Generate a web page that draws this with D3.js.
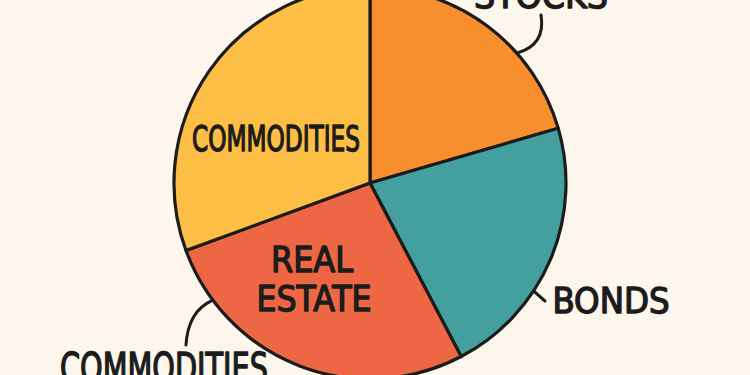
<!DOCTYPE html>
<html>
<head>
<meta charset="utf-8">
<script src="https://cdn.jsdelivr.net/npm/d3@7"></script>
<style>
html,body{margin:0;padding:0;background:#FDF6EC;}
svg{display:block;}
text{font-family:"DejaVu Sans Condensed","DejaVu Sans",sans-serif;font-stretch:condensed;font-weight:normal;fill:#1c1c1c;stroke:#1c1c1c;stroke-width:1.4px;stroke-linejoin:round;}
</style>
</head>
<body>
<svg id="chart" width="750" height="375"></svg>
<script>
// Data
const categories = ["Stocks", "Bonds", "Real Estate", "Commodities"];
const values = [20.5, 21.8, 27.1, 30.6];
const colors = ["#F78F2E", "#44A09E", "#EE6744", "#FDBE45"];

const W = 750, H = 375;
const cx = 370, cy = 183, R = 196;
const svg = d3.select("#chart");
svg.append("rect").attr("width", W).attr("height", H).attr("fill", "#FDF6EC");

const pie = d3.pie().sort(null).value(d => d.v);
const arcs = pie(categories.map((c, i) => ({c, v: values[i], col: colors[i]})));
const arc = d3.arc().innerRadius(0).outerRadius(R);

const g = svg.append("g").attr("transform", `translate(${cx},${cy})`);
g.selectAll("path.slice").data(arcs).enter().append("path")
  .attr("class", "slice")
  .attr("d", arc)
  .attr("fill", d => d.data.col)
  .attr("stroke", "#1c1c1c")
  .attr("stroke-width", 3.2)
  .attr("stroke-linejoin", "round");

// point on the rim at a given angle (radians, clockwise from 12 o'clock)
function rim(a, r = R) { return [Math.sin(a) * r, -Math.cos(a) * r]; }
const deg = Math.PI / 180;

// Leader lines (relative to centre)
const leaders = [
  {a: 48.5 * deg, ctrl: [176, -138], end: [171, -168]},
  {a: 123.4 * deg, ctrl: [168, 112], end: [175, 118]},
  {a: 233.3 * deg, ctrl: [-182, 128], end: [-184, 162]}
];
leaders.forEach(l => {
  const s = rim(l.a);
  g.append("path")
    .attr("d", `M${s[0]},${s[1]} Q${l.ctrl[0]},${l.ctrl[1]} ${l.end[0]},${l.end[1]}`)
    .attr("fill", "none").attr("stroke", "#1c1c1c").attr("stroke-width", 3).attr("stroke-linecap", "round");
});

// Labels
const labels = [
  {t: "COMMODITIES", x: 276, y: 151, w: 168, fs: 36},
  {t: "REAL", x: 312, y: 272, w: 82, fs: 36},
  {t: "ESTATE", x: 314, y: 311, w: 115, fs: 36},
  {t: "BONDS", x: 611, y: 313, w: 117, fs: 36},
  {t: "STOCKS", x: 541, y: 8, w: 134, fs: 36},
  {t: "COMMODITIES", x: 164, y: 382, w: 208, fs: 40}
];
svg.selectAll("text.lab").data(labels).enter().append("text")
  .attr("class", "lab")
  .attr("x", d => d.x).attr("y", d => d.y)
  .attr("text-anchor", "middle")
  .attr("font-size", d => d.fs)
  .attr("textLength", d => d.w)
  .attr("lengthAdjust", "spacingAndGlyphs")
  .text(d => d.t);
</script>
</body>
</html>
